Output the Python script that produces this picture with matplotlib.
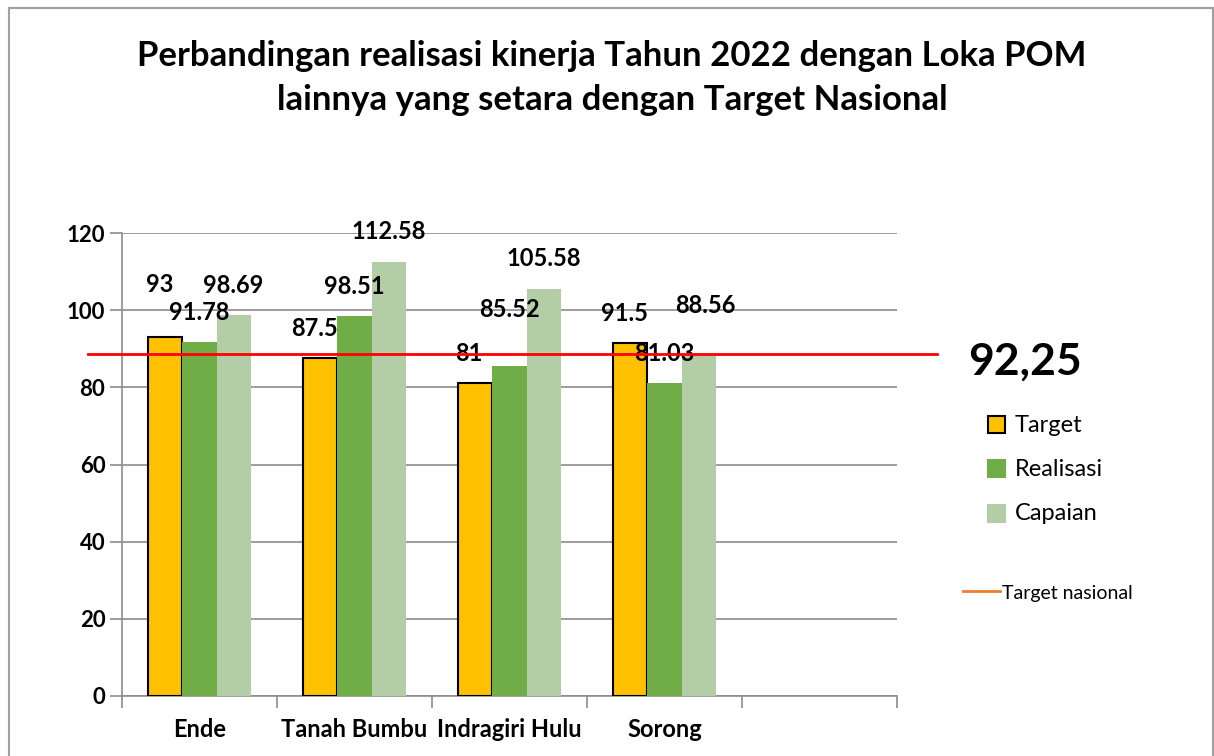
import numpy as np
import matplotlib.pyplot as plt
from matplotlib.patches import Rectangle
from matplotlib.lines import Line2D

# data
categories = ['Ende', 'Tanah Bumbu', 'Indragiri Hulu', 'Sorong', '']
target = [93, 87.5, 81, 91.5]
realisasi = [91.78, 98.51, 85.52, 81.03]
capaian = [98.69, 112.58, 105.58, 88.56]
yticks = [0, 20, 40, 60, 80, 100, 120]
target_nasional_line = 88.6   # where the red line sits on the y scale
target_nasional_text = '92,25'

# extra lift for a few labels that Excel pushed up (data units)
lift_target = [6, 0, 0, 0]
lift_real = [0, 0, 7, 0]
lift_cap = [0, 0, 0, 5]

plt.rcParams['font.family'] = ['Lato', 'DejaVu Sans']

fig = plt.figure(figsize=(12.14, 7.56), dpi=100)
ax = fig.add_axes([122 / 1214, 60 / 756, 775 / 1214, 463 / 756])

n = len(categories)
x = np.arange(n)
w = 0.22
ax.bar(x[:4] - w, target, w, color='#FFC000', edgecolor='black', linewidth=1.5, zorder=3)
ax.bar(x[:4], realisasi, w, color='#70AD47', zorder=3)
ax.bar(x[:4] + w, capaian, w, color='#B3CEA6', zorder=3)

base = 7.7
for i in range(4):
    ax.text(x[i] - w - 0.04, target[i] + base + lift_target[i], f'{target[i]:g}',
            ha='center', va='center', fontsize=17, fontweight='bold')
    ax.text(x[i], realisasi[i] + base + lift_real[i], f'{realisasi[i]:g}',
            ha='center', va='center', fontsize=17, fontweight='bold')
    ax.text(x[i] + w + (0.045 if i == 3 else 0), capaian[i] + base + lift_cap[i], f'{capaian[i]:g}',
            ha='center', va='center', fontsize=17, fontweight='bold')

ax.set_xlim(-0.5, n - 0.5)
ax.set_ylim(0, 120)
ax.set_yticks(yticks, labels=[str(t) for t in yticks], fontsize=16, fontweight='bold')
ax.yaxis.grid(True, color='#8C8C8C', linewidth=1.2, zorder=0)
ax.set_axisbelow(True)
ax.set_xticks(x)
ax.set_xticklabels(categories, fontsize=17, fontweight='bold')
ax.set_xticks(np.arange(-0.5, n, 1), minor=True)
ax.tick_params(axis='x', which='major', length=0, pad=16)
ax.tick_params(axis='x', which='minor', length=8.5, color='#8C8C8C', width=1.2)
ax.tick_params(axis='y', length=8.5, color='#8C8C8C', width=1.2, pad=3.5)
for s in ['top', 'right']:
    ax.spines[s].set_visible(False)
for s in ['left', 'bottom']:
    ax.spines[s].set_color('#8C8C8C')
    ax.spines[s].set_linewidth(1.2)

# national target line, spans past the plot area
x0 = -0.5 - 34 / 155
x1 = n - 0.5 + 40 / 155
ax.add_line(Line2D([x0, x1], [target_nasional_line, target_nasional_line], color='red',
                   linewidth=2, clip_on=False, zorder=5))
fig.text(968 / 1214, 1 - 362 / 756, target_nasional_text, fontsize=32, fontweight='bold',
         va='center', ha='left')

fig.suptitle('Perbandingan realisasi kinerja Tahun 2022 dengan Loka POM\nlainnya yang setara dengan Target Nasional',
             x=0.504, y=1 - 40 / 756, fontsize=25, fontweight='bold', linespacing=1.45, va='top')

# legend drawn like the Excel one
leg_items = [('Target', '#FFC000', 'black'), ('Realisasi', '#70AD47', None), ('Capaian', '#B3CEA6', None)]
ys = [425, 469, 514]
for (name, fc, ec), yy in zip(leg_items, ys):
    fig.patches.append(Rectangle((988 / 1214, 1 - (yy + 8) / 756), 17 / 1214, 17 / 756,
                                 transform=fig.transFigure, facecolor=fc,
                                 edgecolor=ec if ec else fc, linewidth=1.5))
    fig.text(1015 / 1214, 1 - yy / 756, name, fontsize=17, va='center', ha='left')
fig.add_artist(Line2D([963 / 1214, 1000 / 1214], [1 - 591 / 756, 1 - 591 / 756],
                      color='#ED7D31', linewidth=2, transform=fig.transFigure))
fig.text(1002 / 1214, 1 - 594 / 756, 'Target nasional', fontsize=14, va='center', ha='left')

# chart border
fig.patches.append(Rectangle((9 / 1214, -0.01), 1204 / 1214, 1 - 8 / 756 + 0.01,
                             transform=fig.transFigure, fill=False, edgecolor='#A0A0A0', linewidth=1.5))

fig.savefig('out.png', dpi=100)
